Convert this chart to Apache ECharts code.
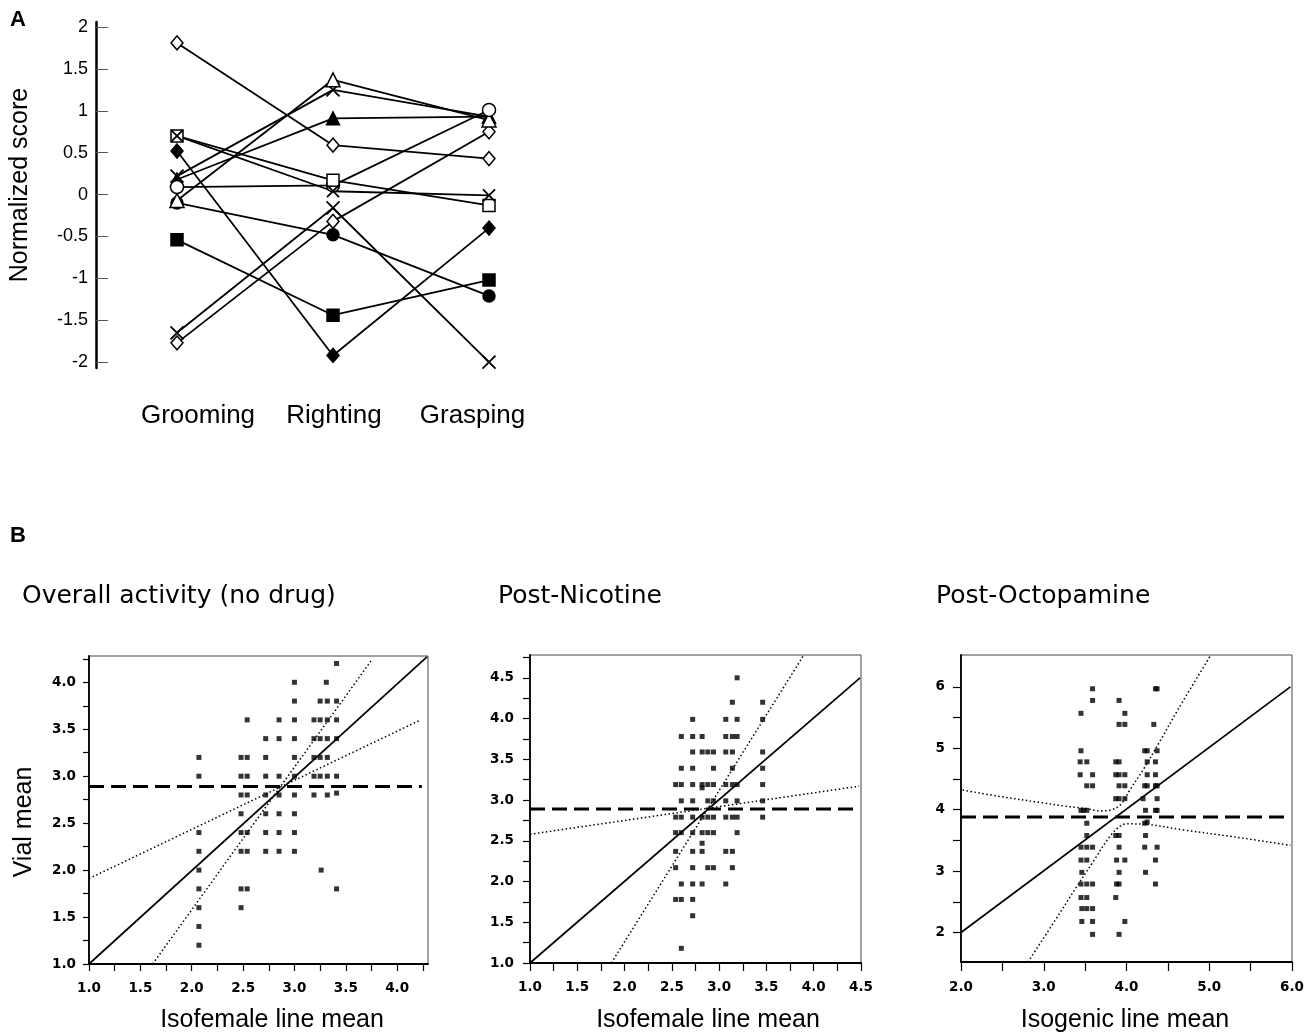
<!DOCTYPE html>
<html><head><meta charset="utf-8">
<script src="https://cdn.jsdelivr.net/npm/echarts@6/dist/echarts.min.js"></script>
<style>html,body{margin:0;padding:0;background:#fff}#c{width:1310px;height:1034px}</style>
</head><body><div id="c"></div>
<script>
// ---------- Panel A ----------
const categories = ['Grooming', 'Righting', 'Grasping'];
const scoreTicks = [-2, -1.5, -1, -0.5, 0, 0.5, 1, 1.5, 2];
const openDiamondA = [1.81, 0.59, 0.43];
const openDiamondB = [-1.77, -0.32, 0.75];
const crossA = [-1.65, -0.16, -2.0];
const crossB = [0.22, 1.25, 0.93];
const crossC = [0.70, 0.04, -0.01];
const filledDiamond = [0.52, -1.92, -0.40];
const filledSquare = [-0.54, -1.44, -1.02];
const filledCircle = [-0.10, -0.48, -1.21];
const filledTriangle = [0.18, 0.91, 0.93];
const openTriangle = [-0.07, 1.37, 0.89];
const openCircle = [0.09, 0.11, 1.01];
const openSquare = [0.70, 0.17, -0.13];

// ---------- Panel B ----------
const panelTitles = ['Overall activity (no drug)', 'Post-Nicotine', 'Post-Octopamine'];
const xNames = ['Isofemale line mean', 'Isofemale line mean', 'Isogenic line mean'];
const yName = 'Vial mean';

const overallTicks = [1, 1.25, 1.5, 1.75, 2, 2.25, 2.5, 2.75, 3, 3.25, 3.5, 3.75, 4, 4.25];
const overallLabels = [1, 1.5, 2, 2.5, 3, 3.5, 4];
const nicXTicks = [1, 1.25, 1.5, 1.75, 2, 2.25, 2.5, 2.75, 3, 3.25, 3.5, 3.75, 4, 4.25, 4.5];
const nicYTicks = [1, 1.25, 1.5, 1.75, 2, 2.25, 2.5, 2.75, 3, 3.25, 3.5, 3.75, 4, 4.25, 4.5, 4.75];
const nicLabels = [1, 1.5, 2, 2.5, 3, 3.5, 4, 4.5];
const octTicks = [2, 2.5, 3, 3.5, 4, 4.5, 5, 5.5, 6];
const octLabels = [2, 3, 4, 5, 6];

const overallPoints = [
  [3.41,4.2],
  [3.0,4.0],[3.31,4.0],
  [3.0,3.8],[3.25,3.8],[3.32,3.8],[3.41,3.8],
  [2.54,3.6],[2.85,3.6],[3.0,3.6],[3.19,3.6],[3.25,3.6],[3.32,3.6],[3.41,3.6],
  [2.72,3.4],[2.85,3.4],[3.0,3.4],[3.19,3.4],[3.25,3.4],[3.32,3.4],[3.41,3.4],
  [2.07,3.2],[2.48,3.2],[2.54,3.2],[2.72,3.2],[3.0,3.2],[3.19,3.2],[3.25,3.2],[3.32,3.2],
  [2.07,3.0],[2.48,3.0],[2.54,3.0],[2.72,3.0],[2.85,3.0],[3.0,3.0],[3.19,3.0],[3.25,3.0],[3.32,3.0],[3.41,3.0],
  [2.48,2.8],[2.54,2.8],[2.72,2.8],[2.85,2.8],[3.0,2.8],[3.19,2.8],[3.32,2.8],[3.41,2.82],
  [2.48,2.6],[2.72,2.6],[2.85,2.6],[3.0,2.6],
  [2.07,2.4],[2.48,2.4],[2.54,2.4],[2.72,2.4],[2.85,2.4],[3.0,2.4],
  [2.07,2.2],[2.48,2.2],[2.54,2.2],[2.72,2.2],[2.85,2.2],[3.0,2.2],
  [2.07,2.0],[3.26,2.0],
  [2.07,1.8],[2.48,1.8],[2.54,1.8],[3.41,1.8],
  [2.07,1.6],[2.48,1.6],
  [2.07,1.4],[2.07,1.2]
];
const overallFit = [[1.0,1.0],[4.29,4.27]];
const overallMean = [[1.0,2.89],[4.24,2.89]];
const overallBandLow = [[1.0,1.91],[4.23,3.60]];
const overallBandHigh = [[1.62,1.0],[3.76,4.25]];

const nicotinePoints = [
  [3.19,4.5],
  [3.14,4.2],[3.46,4.2],
  [2.72,3.99],[3.07,3.99],[3.19,3.99],[3.46,3.99],
  [2.60,3.78],[2.72,3.78],[2.82,3.78],[3.07,3.78],[3.14,3.78],[3.19,3.78],
  [2.72,3.59],[2.82,3.59],[2.88,3.59],[2.94,3.59],[3.07,3.59],[3.14,3.59],[3.46,3.59],
  [2.60,3.39],[2.72,3.39],[2.94,3.39],[3.14,3.39],[3.46,3.39],
  [2.54,3.19],[2.60,3.19],[2.72,3.19],[2.82,3.19],[2.88,3.19],[2.94,3.19],[3.07,3.19],[3.14,3.19],[3.19,3.19],[3.46,3.19],[2.82,3.15],
  [2.60,2.99],[2.72,2.99],[2.88,2.99],[2.94,2.99],[3.07,2.99],[3.19,2.99],[3.46,2.99],
  [2.54,2.79],[2.60,2.79],[2.72,2.79],[2.82,2.79],[2.88,2.79],[2.94,2.79],[3.07,2.79],[3.14,2.79],[3.19,2.79],[3.46,2.79],
  [2.54,2.6],[2.60,2.6],[2.72,2.6],[2.82,2.6],[2.88,2.6],[2.94,2.6],[3.19,2.6],
  [2.82,2.47],
  [2.54,2.37],[2.72,2.37],[2.82,2.37],[3.07,2.37],[3.14,2.37],
  [2.54,2.17],[2.72,2.17],[2.88,2.17],[2.94,2.17],[3.14,2.17],
  [2.60,1.97],[2.72,1.97],[2.82,1.97],[3.07,1.97],
  [2.54,1.78],[2.60,1.78],[2.72,1.78],
  [2.72,1.58],
  [2.60,1.18]
];
const nicotineFit = [[1.0,1.0],[4.49,4.5]];
const nicotineMean = [[1.0,2.89],[4.46,2.89]];
const nicotineBandLow = [[1.0,2.58],[4.48,3.17]];
const nicotineBandHigh = [[1.86,1.0],[3.89,4.77]];

const octopaminePoints = [
  [3.59,5.97],[4.35,5.97],[4.37,5.97],
  [3.59,5.78],[3.91,5.78],
  [3.45,5.57],[3.98,5.57],
  [3.91,5.39],[3.98,5.39],[4.33,5.39],
  [3.45,4.96],[4.22,4.96],[4.25,4.96],[4.37,4.96],
  [3.44,4.78],[3.52,4.78],[3.87,4.78],[3.91,4.78],[4.25,4.78],[4.35,4.78],
  [3.44,4.57],[3.59,4.57],[3.87,4.57],[3.91,4.57],[3.98,4.57],[4.25,4.57],[4.35,4.57],
  [3.52,4.39],[3.59,4.39],[3.91,4.39],[3.98,4.39],[4.22,4.39],[4.25,4.39],[4.35,4.39],[4.37,4.39],
  [3.87,4.18],[3.91,4.18],[3.98,4.18],[4.20,4.18],[4.37,4.18],
  [3.45,3.99],[3.48,3.99],[3.52,3.99],[4.23,3.99],[4.35,3.99],[4.37,3.99],
  [3.52,3.78],[4.22,3.78],[4.25,3.80],
  [3.52,3.58],[3.87,3.58],[3.91,3.58],[4.23,3.58],
  [3.45,3.39],[3.52,3.39],[3.59,3.39],[3.91,3.39],[4.22,3.39],[4.37,3.39],
  [3.45,3.18],[3.52,3.18],[3.88,3.18],[3.98,3.18],[4.35,3.18],
  [3.46,2.98],[3.91,2.98],[4.23,2.98],
  [3.45,2.79],[3.52,2.79],[3.59,2.79],[3.88,2.79],[3.91,2.79],[4.35,2.79],
  [3.45,2.57],[3.52,2.57],[3.87,2.57],
  [3.46,2.39],[3.52,2.39],[3.59,2.39],
  [3.46,2.18],[3.59,2.18],[3.98,2.18],
  [3.59,1.97],[3.91,1.97]
];
const octopamineFit = [[2.0,2.0],[5.98,6.0]];
const octopamineMean = [[2.0,3.88],[5.95,3.88]];
const octopamineBandUpper = [[2.02,4.32],[2.5,4.21],[3.0,4.11],[3.25,4.06],[3.5,4.02],[3.7,3.98],[3.84,4.01],[3.94,4.1],[4.04,4.32],[4.21,4.67],[4.41,5.13],[4.63,5.65],[5.01,6.5]];
const octopamineBandLower = [[2.81,1.52],[3.2,2.33],[3.4,2.75],[3.6,3.16],[3.78,3.53],[3.9,3.71],[4.0,3.77],[4.25,3.76],[4.69,3.67],[5.29,3.56],[5.98,3.42]];

// ---------- build ----------
const chart = echarts.init(document.getElementById('c'), null, {renderer: 'canvas'});
const BLK = '#000';
const crossPath = 'path://M0,0L10,10M10,0L0,10';

function lineA(name, data, symbol, size, filled) {
  return {
    name, type: 'line', xAxisIndex: 0, yAxisIndex: 0, data,
    symbol, symbolSize: size, showSymbol: true, silent: true, animation: false,
    lineStyle: {color: BLK, width: 1.8},
    itemStyle: {color: filled ? BLK : (symbol === crossPath ? 'rgba(0,0,0,0)' : '#fff'), borderColor: BLK, borderWidth: symbol === crossPath ? 1.8 : 1.5},
    z: filled ? 3 : 4
  };
}

function refLine(data, gi, kind) {
  const ls = kind === 'fit' ? {color: BLK, width: 1.7, type: 'solid'}
    : kind === 'mean' ? {color: BLK, width: 3, type: [15, 7]}
    : {color: BLK, width: 1.5, type: [1.5, 2.5]};
  return {type: 'line', xAxisIndex: gi, yAxisIndex: gi, data, symbol: 'none', silent: true,
    animation: false, smooth: kind === 'curve' ? 0.35 : false, lineStyle: ls, z: 2};
}
function pts(data, gi) {
  return {type: 'scatter', xAxisIndex: gi, yAxisIndex: gi, data, symbol: 'rect', symbolSize: 5,
    itemStyle: {color: BLK}, silent: true, animation: false, z: 3};
}

const tickFont = {fontFamily: 'DejaVu Sans', fontWeight: 'bold', fontSize: 13.5, color: BLK};
function bX(gi, min, max, ticks, labels, margin, tlen) {
  return {gridIndex: gi, type: 'value', min, max, splitLine: {show: false},
    axisLine: {show: true, onZero: false, lineStyle: {color: BLK, width: 1.8}},
    axisTick: {show: true, customValues: ticks, length: tlen, lineStyle: {color: BLK, width: 1.2}},
    axisLabel: Object.assign({customValues: labels, margin, formatter: v => Number(v).toFixed(1)}, tickFont)};
}
function bY(gi, min, max, ticks, labels, margin, tlen, fmt) {
  return {gridIndex: gi, type: 'value', min, max, splitLine: {show: false},
    axisLine: {show: true, onZero: false, lineStyle: {color: BLK, width: 1.8}},
    axisTick: {show: true, customValues: ticks, length: tlen, lineStyle: {color: BLK, width: 1.2}},
    axisLabel: Object.assign({customValues: labels, margin, formatter: fmt}, tickFont)};
}
const fmt1 = v => Number(v).toFixed(1);

const gtext = (text, x, y, opts) => Object.assign({type: 'text', x, y, silent: true,
  style: Object.assign({text, fill: BLK, align: 'left', verticalAlign: 'middle', fontFamily: 'Liberation Sans', fontSize: 25}, opts.style || {})},
  opts.rotation ? {rotation: opts.rotation} : {});

const catFont = {fontSize: 26, fontFamily: 'Liberation Sans', color: BLK};
const option = {
  backgroundColor: '#fff',
  animation: false,
  grid: [
    {left: 99, top: 22, width: 468, height: 346, show: false},
    {left: 89, top: 656, width: 339, height: 308, show: true, borderColor: '#444', borderWidth: 1},
    {left: 530, top: 655, width: 331, height: 308, show: true, borderColor: '#444', borderWidth: 1},
    {left: 961, top: 655, width: 331, height: 307, show: true, borderColor: '#444', borderWidth: 1}
  ],
  xAxis: [
    {gridIndex: 0, type: 'category', data: categories, boundaryGap: true,
      axisLine: {show: false}, axisTick: {show: false}, splitLine: {show: false},
      axisLabel: {interval: 0, hideOverlap: false, margin: 35, fontSize: 26, fontFamily: 'Liberation Sans', color: BLK,
        formatter: (v, i) => '{c' + i + '|' + v + '}',
        rich: {
          c0: Object.assign({padding: [0, 0, 0, 42]}, catFont),
          c1: Object.assign({padding: [0, 0, 0, 2]}, catFont),
          c2: Object.assign({padding: [0, 33, 0, 0]}, catFont)
        }}},
    bX(1, 1, 4.3, overallTicks, overallLabels, 17, 7),
    bX(2, 1, 4.5, nicXTicks, nicLabels, 17, 8),
    bX(3, 2, 6, octTicks, octLabels, 18, 9)
  ],
  yAxis: [
    {gridIndex: 0, type: 'value', min: -2.07, max: 2.06, offset: 3, splitLine: {show: false},
      axisLine: {show: true, lineStyle: {color: BLK, width: 2.5}},
      axisTick: {show: true, inside: true, length: 12, customValues: scoreTicks, lineStyle: {color: '#555', width: 1}},
      axisLabel: {customValues: scoreTicks, margin: 8, fontSize: 18, fontFamily: 'Liberation Sans', color: BLK, formatter: v => String(v)}},
    bY(1, 1, 4.28, overallTicks, overallLabels, 13, 6, fmt1),
    bY(2, 1, 4.78, nicYTicks, nicLabels, 16, 7, fmt1),
    bY(3, 1.52, 6.52, octTicks, octLabels, 16, 8, v => String(Math.round(v)))
  ],
  graphic: [
    gtext('A', 10, 20, {style: {fontWeight: 'bold', fontSize: 22}}),
    gtext('B', 10, 536, {style: {fontWeight: 'bold', fontSize: 22}}),
    gtext('Normalized score', 20, 185, {rotation: Math.PI / 2, style: {align: 'center'}}),
    gtext(panelTitles[0], 22, 596, {style: {fontFamily: 'DejaVu Sans', fontSize: 25}}),
    gtext(panelTitles[1], 498, 596, {style: {fontFamily: 'DejaVu Sans', fontSize: 25}}),
    gtext(panelTitles[2], 936, 596, {style: {fontFamily: 'DejaVu Sans', fontSize: 25}}),
    gtext(yName, 24, 822, {rotation: Math.PI / 2, style: {align: 'center'}}),
    gtext(xNames[0], 272, 1020, {style: {align: 'center'}}),
    gtext(xNames[1], 708, 1020, {style: {align: 'center'}}),
    gtext(xNames[2], 1125, 1020, {style: {align: 'center'}})
  ],
  series: [
    lineA('filledDiamond', filledDiamond, 'diamond', [12, 14], true),
    lineA('filledSquare', filledSquare, 'rect', 12, true),
    lineA('filledCircle', filledCircle, 'circle', 12, true),
    lineA('filledTriangle', filledTriangle, 'triangle', 13, true),
    lineA('crossA', crossA, crossPath, 13, false),
    lineA('crossB', crossB, crossPath, 13, false),
    lineA('openDiamondA', openDiamondA, 'diamond', [12, 14], false),
    lineA('openDiamondB', openDiamondB, 'diamond', [12, 14], false),
    lineA('openTriangle', openTriangle, 'triangle', 14, false),
    lineA('openCircle', openCircle, 'circle', 13, false),
    lineA('openSquare', openSquare, 'rect', 12, false),
    lineA('crossC', crossC, crossPath, 12, false),

    refLine(overallBandLow, 1, 'band'), refLine(overallBandHigh, 1, 'band'),
    refLine(overallFit, 1, 'fit'), refLine(overallMean, 1, 'mean'), pts(overallPoints, 1),

    refLine(nicotineBandLow, 2, 'band'), refLine(nicotineBandHigh, 2, 'band'),
    refLine(nicotineFit, 2, 'fit'), refLine(nicotineMean, 2, 'mean'), pts(nicotinePoints, 2),

    refLine(octopamineBandUpper, 3, 'curve'), refLine(octopamineBandLower, 3, 'curve'),
    refLine(octopamineFit, 3, 'fit'), refLine(octopamineMean, 3, 'mean'), pts(octopaminePoints, 3)
  ]
};
chart.setOption(option);
</script></body></html>
